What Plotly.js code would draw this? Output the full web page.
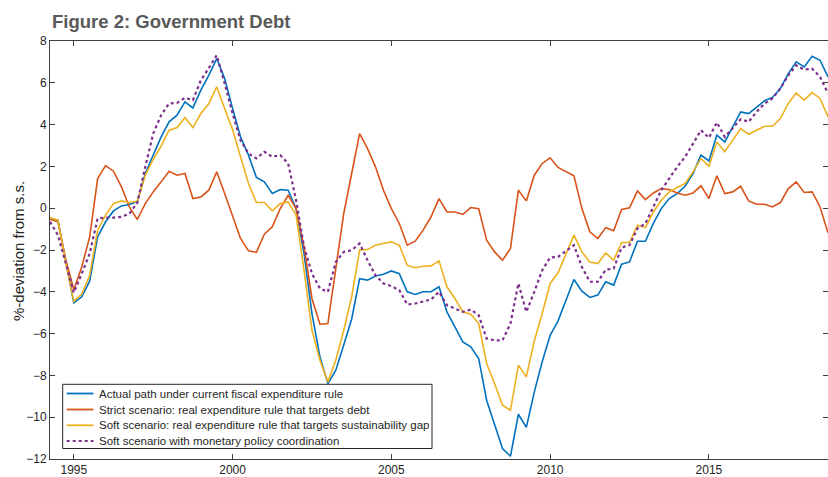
<!DOCTYPE html>
<html>
<head>
<meta charset="utf-8">
<script src="https://cdn.plot.ly/plotly-3.0.1.min.js"></script>
<style>html,body{margin:0;padding:0;background:#fff;}#chart{width:828px;height:477px;}</style>
</head>
<body>
<div id="chart"></div>
<script>
const quarters = [1994.25,1994.5,1994.75,1995.0,1995.25,1995.5,1995.75,1996.0,1996.25,1996.5,
1996.75,1997.0,1997.25,1997.5,1997.75,1998.0,1998.25,1998.5,1998.75,1999.0,
1999.25,1999.5,1999.75,2000.0,2000.25,2000.5,2000.75,2001.0,2001.25,2001.5,
2001.75,2002.0,2002.25,2002.5,2002.75,2003.0,2003.25,2003.5,2003.75,2004.0,
2004.25,2004.5,2004.75,2005.0,2005.25,2005.5,2005.75,2006.0,2006.25,2006.5,
2006.75,2007.0,2007.25,2007.5,2007.75,2008.0,2008.25,2008.5,2008.75,2009.0,
2009.25,2009.5,2009.75,2010.0,2010.25,2010.5,2010.75,2011.0,2011.25,2011.5,
2011.75,2012.0,2012.25,2012.5,2012.75,2013.0,2013.25,2013.5,2013.75,2014.0,
2014.25,2014.5,2014.75,2015.0,2015.25,2015.5,2015.75,2016.0,2016.25,2016.5,
2016.75,2017.0,2017.25,2017.5,2017.75,2018.0,2018.25,2018.5,2018.75];

const actualPath = [-0.49,-0.57,-2.57,-4.53,-4.24,-3.48,-1.37,-0.65,-0.13,0.11,
0.18,0.33,1.66,2.54,3.41,4.13,4.45,5.09,4.80,5.65,
6.36,7.16,6.20,4.77,3.41,2.54,1.47,1.26,0.70,0.89,
0.86,-0.02,-2.17,-5.04,-7.11,-8.39,-7.75,-6.55,-5.30,-3.37,
-3.44,-3.24,-3.16,-3.00,-3.13,-4.00,-4.13,-4.00,-4.00,-3.76,
-4.96,-5.68,-6.40,-6.63,-7.19,-9.19,-10.38,-11.50,-11.87,-9.86,
-10.49,-8.80,-7.35,-6.08,-5.39,-4.40,-3.41,-3.97,-4.27,-4.16,
-3.52,-3.68,-2.68,-2.57,-1.58,-1.58,-0.73,-0.02,0.46,0.70,
1.05,1.66,2.54,2.26,3.49,3.17,3.86,4.61,4.53,4.85,
5.14,5.30,5.73,6.44,7.00,6.76,7.27,7.08,6.28];

const strictScenario = [-0.53,-0.65,-2.49,-3.90,-2.81,-1.37,1.42,2.04,1.77,1.02,
0.06,-0.54,0.22,0.78,1.26,1.77,1.58,1.66,0.46,0.54,
0.86,1.74,0.70,-0.41,-1.45,-2.04,-2.11,-1.24,-0.89,-0.02,
0.62,-0.02,-1.85,-4.32,-5.55,-5.52,-2.81,-0.26,1.66,3.57,
2.85,1.98,0.86,-0.02,-0.73,-1.77,-1.58,-1.05,-0.41,0.46,
-0.18,-0.18,-0.30,0.03,-0.02,-1.53,-2.09,-2.49,-1.93,0.86,
0.35,1.58,2.14,2.41,1.95,1.74,1.55,-0.02,-1.13,-1.45,
-0.93,-1.08,-0.06,0.02,0.83,0.41,0.73,0.94,0.89,0.73,
0.62,0.73,1.07,0.46,1.55,0.70,0.78,1.05,0.35,0.19,
0.19,0.06,0.27,0.94,1.26,0.75,0.78,0.06,-1.18];

const softScenario = [-0.46,-0.57,-2.65,-4.45,-4.11,-3.21,-1.05,-0.33,0.22,0.35,
0.27,0.33,1.58,2.33,2.97,3.73,3.86,4.34,3.86,4.53,
5.00,5.81,4.77,3.76,2.46,1.18,0.27,0.27,-0.13,0.22,
0.30,-0.33,-2.97,-5.84,-7.27,-8.31,-7.27,-5.84,-4.24,-2.00,
-1.98,-1.77,-1.69,-1.61,-1.77,-2.73,-2.85,-2.78,-2.76,-2.52,
-3.76,-4.32,-4.96,-5.07,-5.52,-7.43,-8.39,-9.43,-9.67,-7.51,
-8.07,-6.35,-5.04,-3.60,-3.09,-2.20,-1.29,-2.09,-2.57,-2.65,
-2.14,-2.49,-1.64,-1.64,-0.81,-0.93,-0.18,0.38,0.78,0.99,
1.18,1.74,2.38,2.01,3.17,2.70,3.25,3.81,3.54,3.73,
3.92,3.92,4.29,5.01,5.52,5.17,5.53,5.25,4.37];

const softMonetary = [-0.65,-1.29,-2.65,-4.04,-3.13,-2.17,-0.49,-0.45,-0.45,-0.41,
-0.26,0.26,1.98,3.57,4.45,5.01,5.04,5.28,5.17,6.12,
6.70,7.32,5.97,4.53,3.25,2.62,2.38,2.70,2.46,2.54,
2.14,0.38,-1.85,-3.13,-3.84,-4.00,-2.57,-2.09,-2.01,-1.69,
-2.49,-3.21,-3.60,-3.73,-3.92,-4.61,-4.56,-4.48,-4.37,-4.00,
-4.64,-4.80,-4.96,-4.85,-5.12,-6.24,-6.32,-6.32,-5.52,-3.60,
-4.96,-4.00,-2.97,-2.36,-2.33,-2.04,-1.77,-2.81,-3.52,-3.52,
-2.94,-2.89,-1.88,-1.77,-0.97,-0.73,0.06,0.86,1.42,1.98,
2.45,3.09,3.73,3.37,4.10,3.41,3.81,4.26,4.13,4.61,
5.01,5.25,5.73,6.36,6.84,6.63,6.68,6.28,5.50];

const seriesNames = [
  "Actual path under current fiscal expenditure rule",
  "Strict scenario: real expenditure rule that targets debt",
  "Soft scenario: real expenditure rule that targets sustainability gap",
  "Soft scenario with monetary policy coordination"
];
const seriesColors = ["#0072BD", "#D95319", "#EDB120", "#7E2F8E"];
const xTickVals = [1995, 2000, 2005, 2010, 2015];
const xTickText = ["1995", "2000", "2005", "2010", "2015"];
const yTickVals = [-12, -10, -8, -6, -4, -2, 0, 2, 4, 6, 8];

const FONT = "Liberation Sans, Arial, Helvetica, sans-serif";
const AX = "#404040";
const TXT = "#262626";

// plot area in pixels (for legend box placement)
const PL = 50, PR = 828, PT = 41, PB = 459;
const px = v => (v - PL) / (PR - PL);
const py = v => (PB - v) / (PB - PT);

const allSeries = [actualPath, strictScenario, softScenario, softMonetary];
const traces = allSeries.map((ys, i) => ({
  x: quarters, y: ys, name: seriesNames[i], mode: "lines",
  line: i === 3 ? {color: seriesColors[i], width: 2.2, dash: "dot"} : {color: seriesColors[i], width: 1.6}
}));

// custom legend (box + samples + labels), drawn above the lines
const legendRows = [393.5, 409.5, 425.3, 441];
const shapes = [{type: "rect", xref: "paper", yref: "paper", x0: px(62.7), x1: px(432), y0: py(448.5), y1: py(384.3),
                 fillcolor: "#fff", line: {color: TXT, width: 1}, layer: "above"}];
const annotations = [];
legendRows.forEach((r, i) => {
  shapes.push({type: "line", xref: "paper", yref: "paper", x0: px(66.7), x1: px(93.5), y0: py(r), y1: py(r),
               layer: "above",
               line: i === 3 ? {color: seriesColors[i], width: 2.2, dash: "dot"} : {color: seriesColors[i], width: 1.8}});
  annotations.push({text: seriesNames[i], xref: "paper", yref: "paper", x: px(97), y: py(r),
                    xanchor: "left", yanchor: "middle", showarrow: false,
                    font: {family: FONT, size: 11.5, color: TXT}});
});
annotations.push({text: "%-deviation from s.s.", xref: "paper", yref: "paper", x: px(18), y: py(251),
                  xanchor: "center", yanchor: "middle", textangle: -90, showarrow: false,
                  font: {family: FONT, size: 15, color: TXT}});

const layout = {
  width: 828, height: 477,
  margin: {l: PL, r: 828 - PR, t: PT, b: 477 - PB},
  paper_bgcolor: "#fff", plot_bgcolor: "#fff",
  font: {family: FONT, size: 12, color: TXT},
  title: {text: "<b>Figure 2: Government Debt</b>", font: {family: FONT, size: 18.5, color: "#595959"},
          x: 52/828, xref: "container", xanchor: "left", y: 1 - 21.5/477, yref: "container", yanchor: "middle"},
  showlegend: false,
  xaxis: {range: [1994.25, 2018.75], tickvals: xTickVals, ticktext: xTickText, ticks: "inside", ticklen: 5,
          tickcolor: AX, showline: true, linecolor: AX, linewidth: 1, mirror: "ticks", showgrid: false,
          zeroline: false, tickfont: {size: 12, color: TXT}},
  yaxis: {range: [-12, 8], tickvals: yTickVals, ticks: "inside", ticklen: 5, tickcolor: AX,
          showline: true, linecolor: AX, linewidth: 1, mirror: "ticks", showgrid: false, zeroline: false,
          tickfont: {size: 12, color: TXT}},
  shapes: shapes,
  annotations: annotations
};

Plotly.newPlot("chart", traces, layout, {displayModeBar: false, staticPlot: true});
</script>
</body>
</html>
